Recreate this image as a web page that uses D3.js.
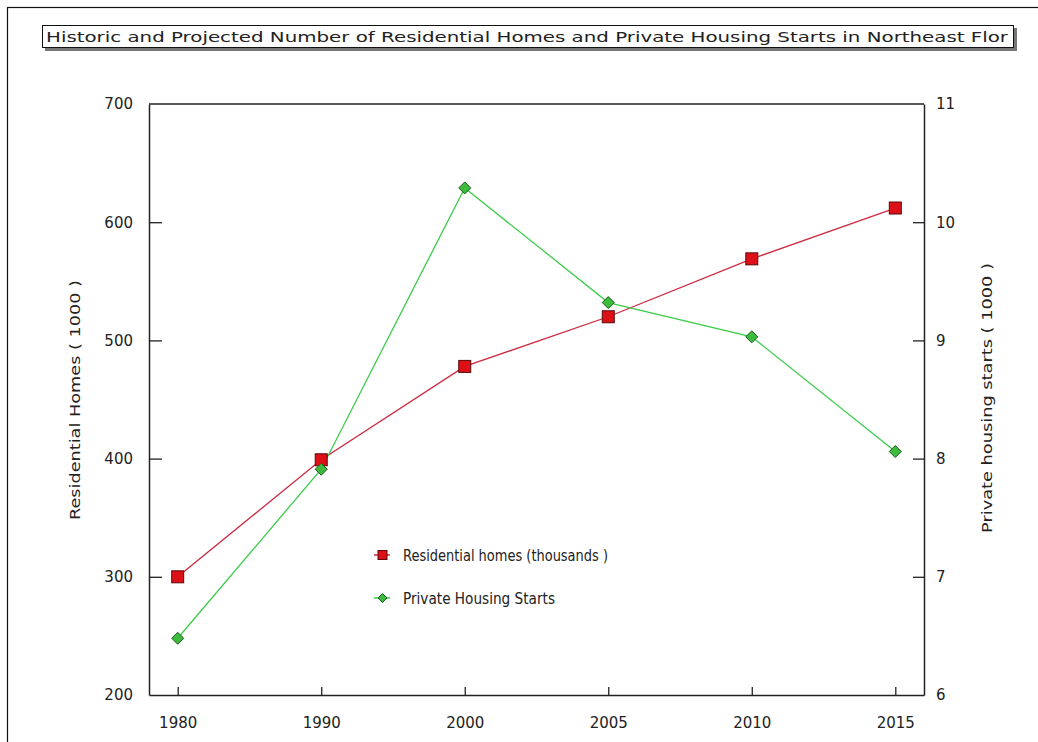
<!DOCTYPE html>
<html>
<head>
<meta charset="utf-8">
<script src="https://cdn.jsdelivr.net/npm/d3@7"></script>
<style>
  html, body { margin: 0; padding: 0; background: #fff; }
  svg { display: block; }
  text { font-family: "DejaVu Sans", "Liberation Sans", sans-serif; fill: #222; }
</style>
</head>
<body>
<svg id="chart" width="1038" height="742"></svg>
<script>
// Years on the horizontal axis
const years = ["1980", "1990", "2000", "2005", "2010", "2015"];
// Residential homes, thousands (left axis)
const residentialHomes = [300, 399, 478, 520, 569, 612];
// Private housing starts, thousands (right axis)
const housingStarts = [6.48, 7.91, 10.29, 9.32, 9.03, 8.06];
// Axis tick values
const leftTicks = [200, 300, 400, 500, 600, 700];
const rightTicks = [6, 7, 8, 9, 10, 11];

const titleText = "Historic and Projected Number of Residential Homes and Private Housing Starts in Northeast Flor";
const seriesNames = ["Residential homes (thousands )", "Private Housing Starts"];

const svg = d3.select("#chart");
const plot = { left: 149, right: 924, top: 104, bottom: 695 };

const x = d3.scalePoint().domain(years).range([plot.left, plot.right]).padding(0.2);
const yL = d3.scaleLinear().domain([200, 700]).range([plot.bottom, plot.top]);
const yR = d3.scaleLinear().domain([6, 11]).range([plot.bottom, plot.top]);

// Outer frame
svg.append("rect").attr("x", 7.5).attr("y", 7.5).attr("width", 1040).attr("height", 760)
  .attr("fill", "none").attr("stroke", "#111").attr("stroke-width", 1.2);

// Title box with drop shadow
svg.append("rect").attr("x", 45).attr("y", 28).attr("width", 972).attr("height", 23).attr("fill", "#777");
svg.append("rect").attr("x", 42.5).attr("y", 25.5).attr("width", 971).attr("height", 22)
  .attr("fill", "#fff").attr("stroke", "#111").attr("stroke-width", 1);
svg.append("text").attr("x", 46).attr("y", 42).attr("font-size", 14.5)
  .attr("textLength", 962).attr("lengthAdjust", "spacingAndGlyphs").text(titleText);

// Axes
const axisStyle = g => {
  g.attr("font-size", 15);
  g.select(".domain").attr("stroke", "#222").attr("stroke-width", 1.5);
  g.selectAll(".tick line").attr("stroke", "#222").attr("stroke-width", 1.3);
  g.selectAll(".tick text").attr("font-size", 15).attr("fill", "#222")
    .attr("font-family", "'DejaVu Sans', sans-serif");
};

svg.append("g").attr("transform", `translate(${plot.left},0)`)
  .call(d3.axisLeft(yL).tickValues(leftTicks).tickSizeInner(-13).tickSizeOuter(0).tickPadding(16))
  .call(axisStyle)
  .call(g => g.selectAll(".tick").filter(d => d === 200 || d === 700).select("line").remove());

svg.append("g").attr("transform", `translate(${plot.right},0)`)
  .call(d3.axisRight(yR).tickValues(rightTicks).tickFormat(d3.format("d"))
    .tickSizeInner(-11).tickSizeOuter(0).tickPadding(12))
  .call(axisStyle)
  .call(g => g.selectAll(".tick").filter(d => d === 6 || d === 11).select("line").remove());

svg.append("g").attr("transform", `translate(0,${plot.bottom})`)
  .call(d3.axisBottom(x).tickSizeInner(-8).tickSizeOuter(0).tickPadding(22))
  .call(axisStyle);

// Top border of the plot area
svg.append("line").attr("x1", plot.left).attr("x2", plot.right)
  .attr("y1", plot.top).attr("y2", plot.top).attr("stroke", "#222").attr("stroke-width", 1.5);

// Axis titles
svg.append("text").attr("transform", `translate(80,400) rotate(-90)`)
  .attr("text-anchor", "middle").attr("font-size", 14.5)
  .attr("textLength", 240).attr("lengthAdjust", "spacingAndGlyphs")
  .text("Residential Homes ( 1000 )");
svg.append("text").attr("transform", `translate(992,398) rotate(-90)`)
  .attr("text-anchor", "middle").attr("font-size", 14.5)
  .attr("textLength", 270).attr("lengthAdjust", "spacingAndGlyphs")
  .text("Private housing starts ( 1000 )");

// Series lines
const resData = years.map((yr, i) => [yr, residentialHomes[i]]);
const startData = years.map((yr, i) => [yr, housingStarts[i]]);

svg.append("path").datum(resData)
  .attr("d", d3.line().x(d => x(d[0])).y(d => yL(d[1])))
  .attr("fill", "none").attr("stroke", "#cc2a40").attr("stroke-width", 1.3);
svg.append("path").datum(startData)
  .attr("d", d3.line().x(d => x(d[0])).y(d => yR(d[1])))
  .attr("fill", "none").attr("stroke", "#3ccc4a").attr("stroke-width", 1.3);

// Markers
const diamond = s => `M0,${-s}L${s},0L0,${s}L${-s},0Z`;
svg.append("g").selectAll("rect").data(resData).join("rect")
  .attr("x", d => x(d[0]) - 6).attr("y", d => yL(d[1]) - 6)
  .attr("width", 12).attr("height", 12)
  .attr("fill", "#dd1018").attr("stroke", "#5a0a0a").attr("stroke-width", 1);
svg.append("g").selectAll("path").data(startData).join("path")
  .attr("transform", d => `translate(${x(d[0])},${yR(d[1])})`)
  .attr("d", diamond(6))
  .attr("fill", "#3cbb3c").attr("stroke", "#1a5a1a").attr("stroke-width", 1);

// Legend
const legend = svg.append("g");
const legendRows = [
  { y: 555, color: "#cc2a40", fill: "#dd1018", edge: "#5a0a0a", shape: "square", len: 205 },
  { y: 598, color: "#3ccc4a", fill: "#3cbb3c", edge: "#1a5a1a", shape: "diamond", len: 152 }
];
legendRows.forEach((r, i) => {
  legend.append("line").attr("x1", 374).attr("x2", 390).attr("y1", r.y).attr("y2", r.y)
    .attr("stroke", r.color).attr("stroke-width", 1.5);
  if (r.shape === "square") {
    legend.append("rect").attr("x", 378).attr("y", r.y - 4.5).attr("width", 9).attr("height", 9)
      .attr("fill", r.fill).attr("stroke", r.edge);
  } else {
    legend.append("path").attr("transform", `translate(382.5,${r.y})`).attr("d", diamond(4.5))
      .attr("fill", r.fill).attr("stroke", r.edge);
  }
  legend.append("text").attr("x", 403).attr("y", r.y + 5.5).attr("font-size", 15.5)
    .attr("textLength", r.len).attr("lengthAdjust", "spacingAndGlyphs")
    .text(seriesNames[i]);
});
</script>
</body>
</html>
